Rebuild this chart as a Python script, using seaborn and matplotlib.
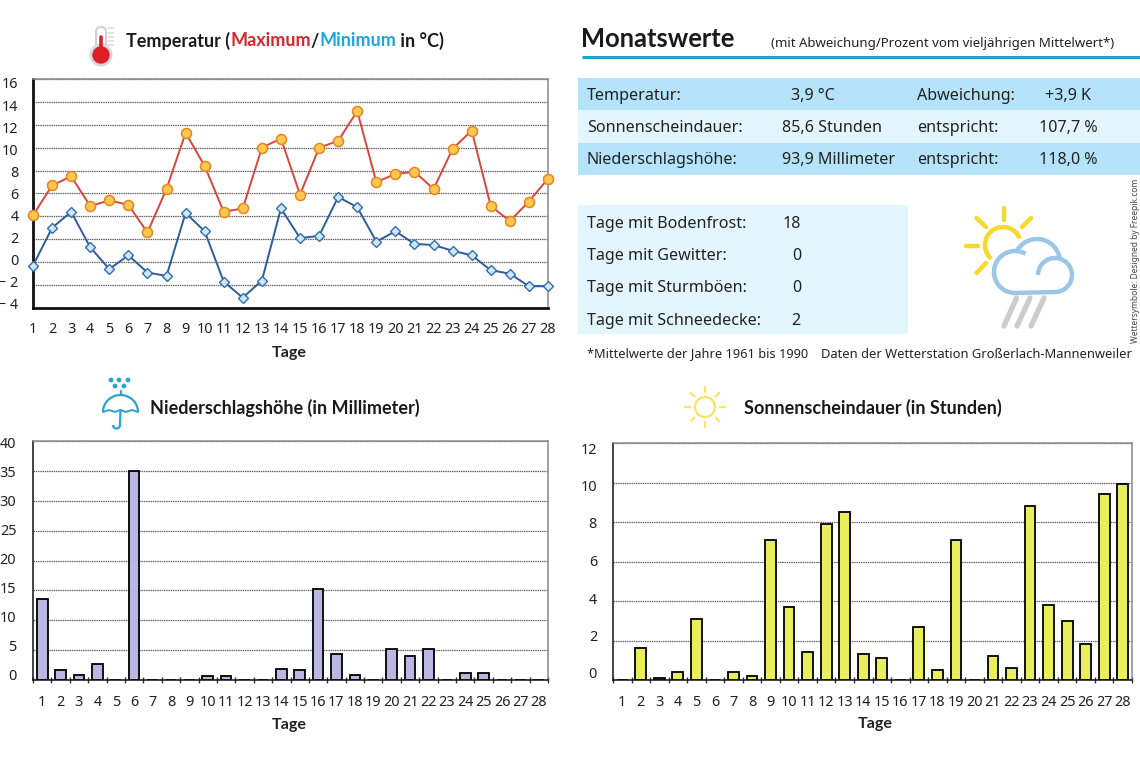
import numpy as np
import seaborn as sns
import matplotlib
matplotlib.use('Agg')
import matplotlib.pyplot as plt
from matplotlib.patches import Rectangle, Circle, Arc, FancyBboxPatch
from matplotlib.transforms import ScaledTranslation

days = list(range(1, 29))
temp_max = [4.1, 6.7, 7.5, 4.9, 5.4, 5.0, 2.6, 6.4, 11.3, 8.4, 4.4, 4.7, 10.0, 10.8,
            5.9, 10.0, 10.6, 13.2, 7.0, 7.7, 7.9, 6.4, 9.9, 11.5, 4.9, 3.6, 5.3, 7.3]
temp_min = [-0.3, 3.0, 4.4, 1.3, -0.6, 0.6, -0.9, -1.2, 4.3, 2.7, -1.7, -3.1, -1.6, 4.7,
            2.1, 2.3, 5.7, 4.8, 1.8, 2.7, 1.6, 1.5, 1.0, 0.6, -0.7, -1.0, -2.1, -2.1]
rain = [13.5, 1.7, 0.9, 2.6, 0, 34.9, 0, 0, 0, 0.7, 0.6, 0, 0, 1.9,
        1.7, 15.2, 4.3, 0.8, 0, 5.2, 4.0, 5.2, 0, 1.2, 1.2, 0, 0, 0]
sun = [0, 1.6, 0.1, 0.4, 3.1, 0, 0.4, 0.2, 7.1, 3.7, 1.4, 7.9, 8.5, 1.3,
       1.1, 0, 2.7, 0.5, 7.1, 0, 1.2, 0.6, 8.8, 3.8, 3.0, 1.8, 9.4, 9.9]

temp_ticks = list(range(-4, 17, 2))
temp_labels = ['\u2212 4', '\u2212 2'] + [str(t) for t in range(0, 17, 2)]
rain_ticks = list(range(0, 41, 5))
sun_ticks = list(range(0, 13, 2))

table_rows = [('Temperatur:', '3,9 °C', 'Abweichung:', '+3,9 K'),
              ('Sonnenscheindauer:', '85,6 Stunden', 'entspricht:', '107,7 %'),
              ('Niederschlagshöhe:', '93,9 Millimeter', 'entspricht:', '118,0 %')]
day_counts = [('Tage mit Bodenfrost:', '18'), ('Tage mit Gewitter:', '0'),
              ('Tage mit Sturmböen:', '0'), ('Tage mit Schneedecke:', '2')]

sns.set_style('white')
plt.rcParams['font.family'] = ['Noto Sans', 'DejaVu Sans']
BOLD = ['Lato', 'DejaVu Sans']

W, H = 1140, 760
fig = plt.figure(figsize=(W / 100, H / 100), dpi=100)


def px_axes(left, top, right, bottom):
    return fig.add_axes([left / W, 1 - bottom / H, (right - left) / W, (bottom - top) / H])


def style_axes(ax, ticks, labels, ymin, ymax, shift_top, shift_bottom, pad, spine_lw):
    ax.set_ylim(ymin, ymax)
    ax.set_yticks(ticks)
    ax.set_yticklabels(labels)
    ax.set_axisbelow(True)
    ax.yaxis.grid(True, color='#666666', lw=0.9, ls=(0, (1.2, 0.6)))
    ax.xaxis.grid(False)
    for side in ['top', 'right']:
        ax.spines[side].set_color('#8a8a8a')
        ax.spines[side].set_linewidth(1.1)
    for side in ['left', 'bottom']:
        ax.spines[side].set_color('#111111')
        ax.spines[side].set_linewidth(spine_lw)
    ax.tick_params(axis='y', direction='inout', length=5, width=1.0, color='#111111',
                   labelsize=10.4, labelcolor='#222222', pad=pad)
    # the y labels sit a little closer together than the grid lines
    n = len(ticks)
    for i, label in enumerate(ax.get_yticklabels()):
        dy = shift_bottom + (shift_top - shift_bottom) * i / (n - 1)
        label.set_transform(label.get_transform() + ScaledTranslation(0, -dy / 100, fig.dpi_scale_trans))
    ax.set_xlabel('')
    ax.set_ylabel('')


# page furniture lives on one pixel axes behind the charts
bg = fig.add_axes([0, 0, 1, 1], zorder=0)
bg.set_xlim(0, W)
bg.set_ylim(H, 0)
bg.axis('off')

# temperature
ax1 = px_axes(33, 79, 548, 308)
ax1.set_zorder(2)
sns.lineplot(x=days, y=temp_max, color='#d8473f', lw=1.4, marker='o', markersize=7.2,
             markerfacecolor='#fdc850', markeredgecolor='#e8851f', markeredgewidth=1.1,
             clip_on=False, zorder=4, ax=ax1)
sns.lineplot(x=days, y=temp_min, color='#2f5c99', lw=1.4, marker='D', markersize=5,
             markerfacecolor='#d3e6f8', markeredgecolor='#2f6fae', markeredgewidth=1.0,
             clip_on=False, zorder=3, ax=ax1)
style_axes(ax1, temp_ticks, temp_labels, -4, 16, 4, -4, 8, 2.0)
ax1.set_xlim(1, 28)
ax1.set_xticks(days)
ax1.tick_params(axis='x', direction='inout', length=5.5, width=1.4, color='black',
                labelsize=10.4, labelcolor='#222222', pad=7)

# precipitation and sunshine bars
for left, top, right, values, colour, ticks, ymax, shifts, pad in [
        (33, 441, 548, rain, '#bbb6e2', rain_ticks, 40, (1, -5), 9.5),
        (613, 443, 1132, sun, '#e8ee5c', sun_ticks, 12, (5, -7), 9)]:
    ax = px_axes(left, top, right, 680)
    ax.set_zorder(2)
    sns.barplot(x=days, y=values, color=colour, saturation=1, width=0.58,
                edgecolor='black', linewidth=1.3, ax=ax)
    style_axes(ax, ticks, [str(t) for t in ticks], 0, ymax, shifts[0], shifts[1], pad, 1.1)
    ax.set_xlim(-0.5, 27.5)
    ax.set_xticks(range(28))
    ax.set_xticklabels([str(d) for d in days])
    ax.set_xticks(np.arange(-0.5, 28), minor=True)
    ax.tick_params(axis='x', which='major', length=0, labelsize=10.4, labelcolor='#222222', pad=11)
    ax.tick_params(axis='x', which='minor', direction='inout', length=5, width=1.0,
                   color='#333333', bottom=True)

# x axis titles
for x, y in [(289, 353), (289, 725), (875, 724)]:
    bg.text(x, y, 'Tage', fontsize=11.6, family=BOLD, fontweight='bold', ha='center', va='center', color='#222222')


def chained_text(x, y, parts, size):
    # one line in several colours, each part starts where the last one ended
    renderer = fig.canvas.get_renderer()
    for string, colour in parts:
        t = bg.text(x, y, string, fontsize=size, family=BOLD, fontweight='bold', color=colour,
                    va='center', ha='left')
        x = t.get_window_extent(renderer).x1


chained_text(126, 41, [('Temperatur (', '#1a1a1a'), ('Maximum', '#d9262e'), ('/', '#1a1a1a'),
                       ('Minimum', '#1ea6df'), (' in °C)', '#1a1a1a')], 13)
chained_text(150, 408, [('Niederschlagshöhe (in Millimeter)', '#1a1a1a')], 13)
chained_text(744, 408, [('Sonnenscheindauer (in Stunden)', '#1a1a1a')], 13)

# Monatswerte block
bg.text(581, 39, 'Monatswerte', fontsize=18.4, family=BOLD, fontweight='bold', color='#1a1a1a', va='center')
bg.text(771, 43, '(mit Abweichung/Prozent vom vieljährigen Mittelwert*)', fontsize=9.5,
        color='#222222', va='center')
bg.plot([582, 1140], [57, 57], color='#1f9fd6', lw=2.2, solid_capstyle='butt')

band_colours = ['#b4e3fa', '#e3f5fd', '#b4e3fa']
value_x = [791, 782, 782]
result_x = [1045, 1039, 1039]
for i, (name, value, word, result) in enumerate(table_rows):
    bg.add_patch(Rectangle((578, 78 + 32.3 * i), 562, 32.3, fc=band_colours[i], ec='none'))
    y = 96 + 32 * i
    bg.text(587, y, name, fontsize=11.6, color='#222222', va='center')
    bg.text(value_x[i], y, value, fontsize=11.6, color='#222222', va='center')
    bg.text(917, y, word, fontsize=11.6, color='#222222', va='center')
    bg.text(result_x[i], y, result, fontsize=11.6, color='#222222', va='center')

bg.add_patch(Rectangle((578, 205), 330, 129, fc='#e3f5fd', ec='none'))
for i, (name, value) in enumerate(day_counts):
    y = 224 + 32.2 * i
    bg.text(587, y, name, fontsize=11.6, color='#222222', va='center')
    bg.text(801, y, value, fontsize=11.6, color='#222222', va='center', ha='right')

bg.text(587, 354, '*Mittelwerte der Jahre 1961 bis 1990', fontsize=9.2, color='#222222', va='center')
bg.text(821, 354, 'Daten der Wetterstation Großerlach-Mannenweiler', fontsize=9.3, color='#222222', va='center')
bg.text(1135, 343, 'Wettersymbole: Designed by Freepik.com', fontsize=6, color='#444444',
        rotation=90, ha='center', va='bottom')

# thermometer icon
bg.add_patch(FancyBboxPatch((96, 27), 10, 28, boxstyle='round,pad=0,rounding_size=5', fc='white',
                            ec='#cfcfcf', lw=1.4))
bg.add_patch(Circle((101, 55), 11.5, fc='#d8d8d8', ec='none'))
bg.add_patch(Circle((101, 55), 8.7, fc='#dc1f26', ec='none'))
bg.plot([101, 101], [37, 52], color='#dc1f26', lw=2.6)
for y in [28, 33, 37, 41, 45]:
    bg.plot([108, 113], [y, y], color='#dddddd', lw=1.2)

# umbrella icon
umbrella = '#2aa3d0'
bg.add_patch(Arc((120.5, 412), 35, 34, theta1=180, theta2=360, color=umbrella, lw=1.6))
bg.plot([103, 109, 115, 120.5, 126, 132, 138], [412, 410, 412, 410, 412, 410, 412], color=umbrella, lw=1.4)
bg.plot([120.5, 120.5], [391, 395], color=umbrella, lw=1.6)
bg.plot([120.5, 120], [410, 425], color=umbrella, lw=1.6)
bg.add_patch(Arc((116.5, 425), 7, 7, theta1=0, theta2=180, color=umbrella, lw=1.6))
for x, y in [(111, 380), (119, 380), (128, 380), (115, 386), (124, 386)]:
    bg.add_patch(Circle((x, y), 2.4, fc=umbrella, ec='none'))

# sun icon
yellow = '#f8e464'
bg.add_patch(Circle((705, 407), 10, fc='white', ec=yellow, lw=1.6))
for a in np.deg2rad(range(0, 360, 45)):
    bg.plot([705 + 15 * np.cos(a), 705 + 20 * np.cos(a)], [407 + 15 * np.sin(a), 407 + 20 * np.sin(a)],
            color=yellow, lw=1.6, solid_capstyle='round')

# weather icon: sun behind a cloud with rain
sun_yellow = '#f6d92a'
bg.add_patch(Arc((1003, 245), 36, 36, theta1=130, theta2=339, color=sun_yellow, lw=3.2))
for x0, y0, x1, y1 in [(1003.5, 208, 1003.5, 220), (976.5, 218, 986, 227), (1031, 218, 1022, 227),
                       (966, 246, 978, 246), (976.5, 273, 986, 263)]:
    bg.plot([x0, x1], [y0, y1], color=sun_yellow, lw=3.2, solid_capstyle='round')
cloud_blue = '#9cc6e6'
bg.add_patch(Arc((1015, 272), 42, 42, theta1=90, theta2=300, color=cloud_blue, lw=3.2))
bg.add_patch(Arc((1037, 262), 46, 46, theta1=205, theta2=350, color=cloud_blue, lw=3.2))
bg.add_patch(Arc((1055, 275), 34, 34, theta1=180, theta2=450, color=cloud_blue, lw=3.2))
bg.plot([1015, 1055], [293, 292], color=cloud_blue, lw=3.2)
for x0, x1 in [(1016.5, 1004), (1030, 1017), (1044, 1031)]:
    bg.plot([x0, x1], [298, 326], color='#cccccc', lw=3.8, solid_capstyle='round')

fig.savefig('out.png', dpi=100)
